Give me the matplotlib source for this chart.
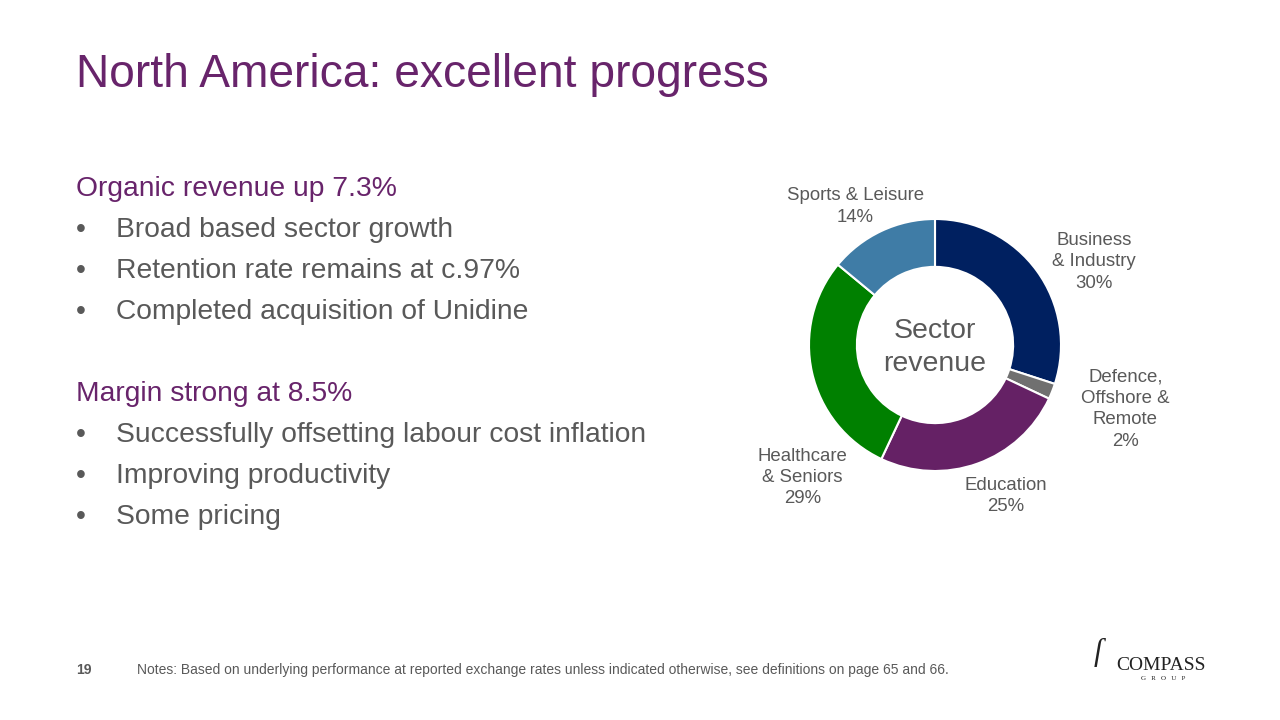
import matplotlib
matplotlib.use("Agg")
import matplotlib.pyplot as plt

plt.rcParams["font.family"] = ["Liberation Sans", "DejaVu Sans"]

# data
sectors = ["Business\n& Industry", "Defence,\nOffshore &\nRemote", "Education",
           "Healthcare\n& Seniors", "Sports & Leisure"]
shares = [30, 2, 25, 29, 14]
colors = ["#002060", "#707070", "#652165", "#008000", "#3F7CA6"]
label_pos = [(1.26, 0.66), (1.51, -0.51), (0.56, -1.20), (-1.05, -1.05), (-0.63, 1.10)]

title = "North America: excellent progress"
sections = [
    ("Organic revenue up 7.3%", ["Broad based sector growth",
                                 "Retention rate remains at c.97%",
                                 "Completed acquisition of Unidine"]),
    ("Margin strong at 8.5%", ["Successfully offsetting labour cost inflation",
                               "Improving productivity",
                               "Some pricing"]),
]
note = ("Notes: Based on underlying performance at reported exchange rates unless "
        "indicated otherwise, see definitions on page 65 and 66.")

PURPLE = "#68246B"
GREY = "#595959"

W, H = 1280, 720
fig = plt.figure(figsize=(12.8, 7.2), dpi=100)
fig.patch.set_facecolor("white")


def fx(x):
    return x / W


def fy(y):
    return 1 - y / H


fig.text(fx(76), fy(75), title, fontsize=33.2, color=PURPLE, va="center", ha="left")

y = 189
for head, bullets in sections:
    fig.text(fx(76), fy(y), head, fontsize=20.3, color=PURPLE, va="center")
    y += 41
    for b in bullets:
        fig.text(fx(76), fy(y), "\u2022", fontsize=20.3, color=GREY, va="center")
        fig.text(fx(116), fy(y), b, fontsize=20.3, color=GREY, va="center")
        y += 41
    y += 41

fig.text(fx(76), fy(670), "19", fontsize=10, color=GREY, weight="bold", va="center")
fig.text(fx(137), fy(670), note, fontsize=10, color=GREY, va="center")

# logo
fig.text(fx(1161), fy(665), "COMPASS", family="Liberation Serif", fontsize=14,
         color="#222222", ha="center", va="center")
fig.text(fx(1163), fy(679), "G   R   O   U   P", family="Liberation Serif", fontsize=5,
         color="#222222", ha="center", va="center")
fig.text(fx(1098), fy(652), "\u017f", family="Liberation Serif", fontsize=22,
         color="#222222", ha="center", va="center", style="italic")

# donut
cx, cy, r = 935, 345, 126
half = 2.2 * r
ax = fig.add_axes([fx(cx - half), fy(cy + half), 2 * half / W, 2 * half / H])

ax.pie(shares, colors=colors, startangle=90, counterclock=False, radius=1.0,
       wedgeprops=dict(width=0.38, edgecolor="white", linewidth=1.5))
ax.set_xlim(-2.2, 2.2)
ax.set_ylim(-2.2, 2.2)
ax.set_aspect("equal")
ax.axis("off")

for name, val, (lx, ly) in zip(sectors, shares, label_pos):
    ax.text(lx, ly, f"{name}\n{val}%", fontsize=13.4, color=GREY, ha="center",
            va="center", linespacing=1.33)

ax.text(0, -0.02, "Sector\nrevenue", fontsize=20.5, color=GREY, ha="center",
        va="center", linespacing=1.32)

fig.savefig("out.png", dpi=100, facecolor="white")
